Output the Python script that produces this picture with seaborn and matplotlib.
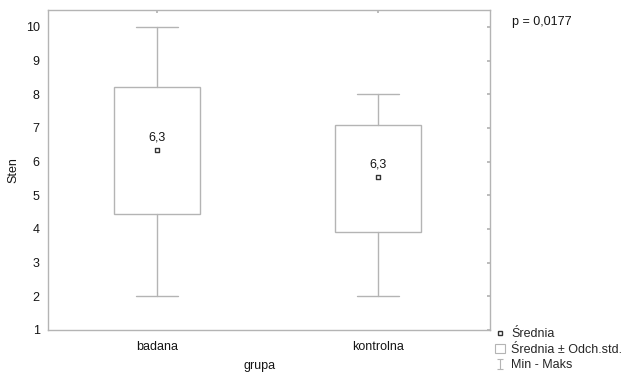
import matplotlib
matplotlib.use("Agg")
import matplotlib.pyplot as plt
import seaborn as sns
import pandas as pd
from matplotlib.lines import Line2D
from matplotlib.patches import Patch
from matplotlib.path import Path

groups = ["badana", "kontrolna"]
means = [6.33, 5.55]
sd_low = [4.45, 3.92]
sd_high = [8.2, 7.1]
mins = [2, 2]
maxs = [10, 8]
mean_labels = ["6,3", "6,3"]
y_ticks = [1, 2, 3, 4, 5, 6, 7, 8, 9, 10]
p_text = "p = 0,0177"

sns.set_theme(style="white")
plt.rcParams['font.family'] = ['Liberation Sans', 'DejaVu Sans']

GRAY = "#b4b4b4"
TXT = "#151515"
fig = plt.figure(figsize=(6.33, 3.72), dpi=100)
ax = fig.add_axes([0.0758, 0.113, 0.698, 0.86])

stats = []
for g, m, lo, hi, mn, mx in zip(groups, means, sd_low, sd_high, mins, maxs):
    stats.append(dict(label=g, med=m, q1=lo, q3=hi, whislo=mn, whishi=mx, fliers=[]))
ax.bxp(stats, positions=range(len(groups)), widths=0.39, showfliers=False,
       patch_artist=True,
       boxprops=dict(facecolor="white", edgecolor=GRAY, linewidth=1.0),
       whiskerprops=dict(color=GRAY, linewidth=1.0),
       capprops=dict(color=GRAY, linewidth=1.0),
       medianprops=dict(linewidth=0),
       capwidths=0.19)

df = pd.DataFrame({"grupa": [0, 1], "Sten": means})
sns.scatterplot(data=df, x="grupa", y="Sten", marker="s", s=12, color="white",
                edgecolor="#333333", linewidth=1.0, ax=ax, zorder=5, legend=False)
for i, (m, lab) in enumerate(zip(means, mean_labels)):
    ax.text(i, m + 0.2, lab, ha="center", va="bottom", fontsize=9, color=TXT)

ax.set_xlim(-0.494, 1.506)
ax.set_ylim(1, 10.5)
ax.set_yticks(y_ticks)
ax.set_xticks(range(len(groups)))
ax.set_xticklabels(groups)
ax.set_xlabel("grupa", fontsize=9, color=TXT)
ax.set_ylabel("Sten", fontsize=9, color=TXT)
ax.xaxis.set_label_coords(0.48, -0.095)
ax.yaxis.set_label_coords(-0.065, 0.5)
ax.tick_params(axis="both", direction="in", length=2.5, color=GRAY, labelsize=9,
               labelcolor=TXT, top=True, right=True)
ax.tick_params(axis="x", pad=8)
ax.tick_params(axis="y", pad=6)
for s in ax.spines.values():
    s.set_color(GRAY)
    s.set_linewidth(1.0)

fig.text(0.809, 0.941, p_text, fontsize=9, color=TXT, va="center")

ipath = Path([(-0.5, 1), (0.5, 1), (0, 1), (0, -1), (-0.5, -1), (0.5, -1)],
             [Path.MOVETO, Path.LINETO, Path.MOVETO, Path.LINETO, Path.MOVETO, Path.LINETO])
handles = [
    Line2D([], [], marker="s", linestyle="none", markersize=3.5, markerfacecolor="white",
           markeredgecolor="#333333", markeredgewidth=1.0),
    Patch(facecolor="white", edgecolor=GRAY, linewidth=0.8),
    Line2D([], [], marker=ipath, linestyle="none", markersize=7.5, color=GRAY,
           markeredgewidth=0.8),
]
labels = ["Średnia", "Średnia ± Odch.std.", "Min - Maks"]
fig.legend(handles, labels, loc="lower left", bbox_to_anchor=(0.768, -0.022),
           frameon=False, fontsize=9, handlelength=0.8, handletextpad=0.5,
           labelspacing=0.28, borderpad=0.2)

fig.savefig("out.png", dpi=100)
